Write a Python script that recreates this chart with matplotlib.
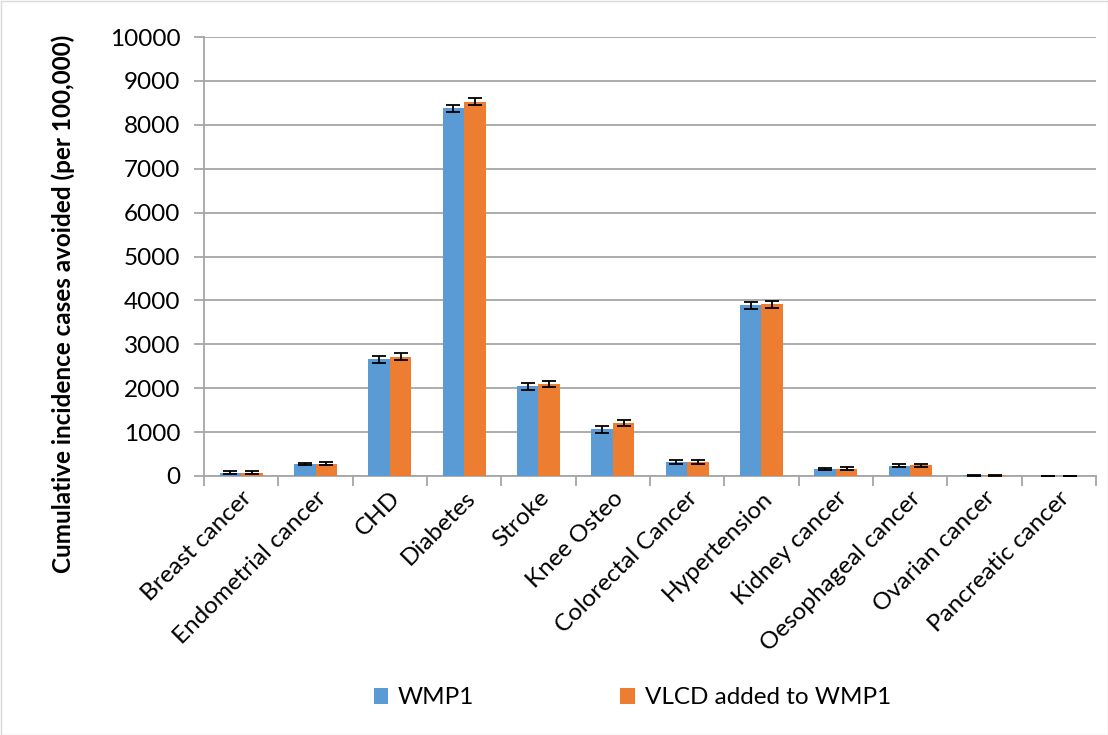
import matplotlib
matplotlib.use("Agg")
import matplotlib.pyplot as plt
import numpy as np
from matplotlib.patches import Rectangle

categories = ["Breast cancer", "Endometrial cancer", "CHD", "Diabetes", "Stroke",
              "Knee Osteo", "Colorectal Cancer", "Hypertension", "Kidney cancer",
              "Oesophageal cancer", "Ovarian cancer", "Pancreatic cancer"]
wmp1 = [70, 270, 2660, 8380, 2040, 1060, 310, 3890, 165, 235, 15, 5]
wmp1_err = [35, 30, 80, 80, 70, 70, 45, 80, 25, 30, 5, 3]
vlcd = [75, 280, 2720, 8520, 2090, 1200, 320, 3910, 170, 240, 15, 5]
vlcd_err = [35, 30, 80, 80, 70, 70, 45, 80, 25, 30, 5, 3]
series_names = ["WMP1", "VLCD added to WMP1"]
yticks = list(range(0, 10001, 1000))

plt.rcParams['font.family'] = ['Lato', 'DejaVu Sans']
blue = "#5B9BD5"
orange = "#ED7D31"
fs = 17.5

fig = plt.figure(figsize=(11.08, 7.35), dpi=100)
ax = fig.add_axes([204/1108, 1-476/735, (1096-204)/1108, (476-37)/735])

x = np.arange(len(categories))
w = 0.29
ekw = dict(ecolor="black", elinewidth=1.3, capsize=5, capthick=1.3)
ax.bar(x - w/2, wmp1, w, color=blue, yerr=wmp1_err, error_kw=ekw, label=series_names[0], zorder=3)
ax.bar(x + w/2, vlcd, w, color=orange, yerr=vlcd_err, error_kw=ekw, label=series_names[1], zorder=3)

ax.set_xlim(-0.5, len(categories) - 0.5)
ax.set_ylim(0, 10000)
ax.set_yticks(yticks)
ax.set_yticklabels([str(v) for v in yticks], fontsize=fs)
ax.yaxis.grid(True, color="#A6A6A6", linewidth=1.3, zorder=0)
ax.set_axisbelow(True)

ax.set_xticks(np.arange(len(categories) + 1) - 0.5, minor=False)
ax.set_xticklabels([])
ax.set_xticks(x, minor=True)
ax.set_xticklabels(categories, minor=True, rotation=45, ha="right", rotation_mode="anchor", fontsize=fs)
ax.tick_params(axis="x", which="minor", length=0, pad=8)
ax.tick_params(axis="x", which="major", length=7, color="#A6A6A6", width=1.3)
ax.tick_params(axis="y", length=7, color="#A6A6A6", width=1.3, pad=10)

for s in ["top", "right"]:
    ax.spines[s].set_visible(False)
for s in ["left", "bottom"]:
    ax.spines[s].set_color("#A6A6A6")
    ax.spines[s].set_linewidth(1.3)

ax.set_ylabel("Cumulative incidence cases avoided (per 100,000)", fontsize=fs, fontweight="bold")
ax.yaxis.set_label_coords(-0.145, 0.392)

leg = fig.legend(loc="center", bbox_to_anchor=(0.5707, 1-698/735), ncol=2, frameon=False,
                 fontsize=fs, handlelength=0.6, handleheight=0.6, columnspacing=6.0, handletextpad=0.4)

fig.patches.append(Rectangle((0.5/1108, 0.5/735), 1-1/1108, 1-1/735, transform=fig.transFigure,
                             fill=False, edgecolor="#D9D9D9", linewidth=1))

fig.savefig("out.png", dpi=100)
